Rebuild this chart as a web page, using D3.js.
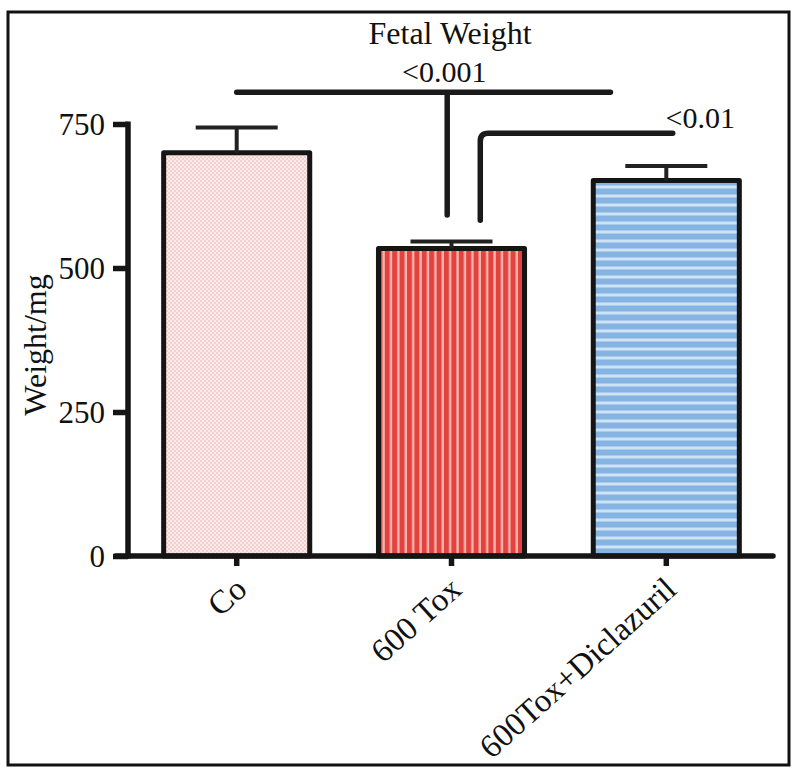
<!DOCTYPE html>
<html><head><meta charset="utf-8">
<script src="https://cdn.jsdelivr.net/npm/d3@7/dist/d3.min.js"></script>
<style>body{margin:0;background:#fff}svg{display:block}text{font-family:"Liberation Serif","Times New Roman",serif;fill:#111}</style>
</head><body><div id="chart"></div>
<script>
const categories = ["Co", "600 Tox", "600Tox+Diclazuril"];
const means = [700, 534, 652];
const sems = [44, 12, 25];
const yTicks = [0, 250, 500, 750];
const title = "Fetal Weight";
const yLabel = "Weight/mg";
// significance brackets: horizontal from index x1 to x2 at level, vertical at xv from level down to drop
const brackets = [
  {x1: 0, x2: 1.74, xv: 0.98, level: 805, drop: 592, label: "<0.001", lx: 0.966, ly: 823},
  {x1: 1.134, x2: 2.03, xv: 1.134, level: 734, drop: 583, label: "<0.01", lx: 2.158, ly: 743}
];

const W = 800, H = 777;
const svg = d3.select("#chart").append("svg").attr("width", W).attr("height", H);
const defs = svg.append("defs");

// patterns
const p1 = defs.append("pattern").attr("id","pCo").attr("patternUnits","userSpaceOnUse").attr("width",4).attr("height",4);
p1.append("rect").attr("width",4).attr("height",4).attr("fill","#fbeaea");
p1.append("rect").attr("width",2).attr("height",2).attr("fill","#f3cfcf");
p1.append("rect").attr("x",2).attr("y",2).attr("width",2).attr("height",2).attr("fill","#f3cfcf");

const p2 = defs.append("pattern").attr("id","pTox").attr("patternUnits","userSpaceOnUse").attr("width",7.4).attr("height",10);
p2.append("rect").attr("width",7.4).attr("height",10).attr("fill","#e2433f");
p2.append("rect").attr("x",5).attr("width",2.4).attr("height",10).attr("fill","#f7b3ad");

const p3 = defs.append("pattern").attr("id","pDic").attr("patternUnits","userSpaceOnUse").attr("width",10).attr("height",9);
p3.append("rect").attr("width",10).attr("height",9).attr("fill","#85b4e3");
p3.append("rect").attr("y",5.5).attr("width",10).attr("height",3).attr("fill","#cfe3f6");

const fills = ["url(#pCo)", "url(#pTox)", "url(#pDic)"];

const x = d3.scaleBand().domain(categories).range([125, 778]).paddingInner(0.32).paddingOuter(0.18);
const y = d3.scaleLinear().domain([0, 750]).range([556, 124]);
const xi = d3.scaleLinear().domain([0, 2]).range([x(categories[0]) + x.bandwidth()/2, x(categories[2]) + x.bandwidth()/2]);

// border
svg.append("rect").attr("x",8).attr("y",12).attr("width",781).attr("height",753)
  .attr("fill","none").attr("stroke","#111").attr("stroke-width",3);

// bars
svg.selectAll("rect.bar").data(categories).join("rect").attr("class","bar")
  .attr("x", d => x(d)).attr("width", x.bandwidth())
  .attr("y", (d,i) => y(means[i])).attr("height", (d,i) => y(0) - y(means[i]))
  .attr("fill", (d,i) => fills[i]).attr("stroke","#151515").attr("stroke-width",5).attr("stroke-linejoin","round");

// error bars
const eb = svg.append("g").attr("stroke","#222").attr("stroke-width",4);
categories.forEach((c,i) => {
  const cx = x(c) + x.bandwidth()/2;
  eb.append("line").attr("x1",cx).attr("x2",cx).attr("y1",y(means[i])).attr("y2",y(means[i]+sems[i]));
  eb.append("line").attr("x1",cx-41).attr("x2",cx+41).attr("y1",y(means[i]+sems[i])).attr("y2",y(means[i]+sems[i]));
});

// axes
const yAxis = svg.append("g").attr("transform","translate(128,0)")
  .call(d3.axisLeft(y).tickValues(yTicks).tickSize(15).tickPadding(8));
const xAxis = svg.append("g").attr("transform","translate(0,556)")
  .call(d3.axisBottom(x).tickSize(10).tickPadding(8));
[yAxis, xAxis].forEach(a => {
  a.select(".domain").remove();
  a.selectAll(".tick line").attr("stroke","#151515").attr("stroke-width",5.5);
  a.selectAll("text").style("font-size","31px").attr("fill","#111");
});
svg.append("line").attr("x1",128).attr("x2",128).attr("y1",y(750)-2.5).attr("y2",y(0)+2.5).attr("stroke","#151515").attr("stroke-width",5.5);
svg.append("line").attr("x1",116).attr("x2",773).attr("y1",y(0)).attr("y2",y(0)).attr("stroke","#151515").attr("stroke-width",5.5).attr("stroke-linecap","round");
yAxis.selectAll("text").attr("dy","0.34em");
xAxis.selectAll("text").attr("text-anchor","end").attr("y",0).attr("dy",0)
  .attr("transform","translate(12,36) rotate(-42)").style("font-size","33px");

// brackets
brackets.forEach(b => {
  const path = d3.path();
  if (b.xv === b.x1) {
    path.moveTo(xi(b.xv), y(b.drop));
    path.lineTo(xi(b.xv), y(b.level) + 8);
    path.quadraticCurveTo(xi(b.xv), y(b.level), xi(b.xv) + 8, y(b.level));
    path.lineTo(xi(b.x2), y(b.level));
  } else {
    path.moveTo(xi(b.x1), y(b.level));
    path.lineTo(xi(b.x2), y(b.level));
    path.moveTo(xi(b.xv), y(b.level));
    path.lineTo(xi(b.xv), y(b.drop));
  }
  svg.append("path").attr("d", path.toString()).attr("fill","none")
    .attr("stroke","#1a1a1a").attr("stroke-width",5.5).attr("stroke-linecap","round");
  svg.append("text").attr("x", xi(b.lx)).attr("y", y(b.ly)).attr("text-anchor","middle")
    .style("font-size","30px").text(b.label);
});

svg.append("text").attr("x",450).attr("y",44).attr("text-anchor","middle").style("font-size","32px").text(title);
svg.append("text").attr("transform","translate(46,345) rotate(-90)").attr("text-anchor","middle")
  .style("font-size","32px").text(yLabel);
</script></body></html>
